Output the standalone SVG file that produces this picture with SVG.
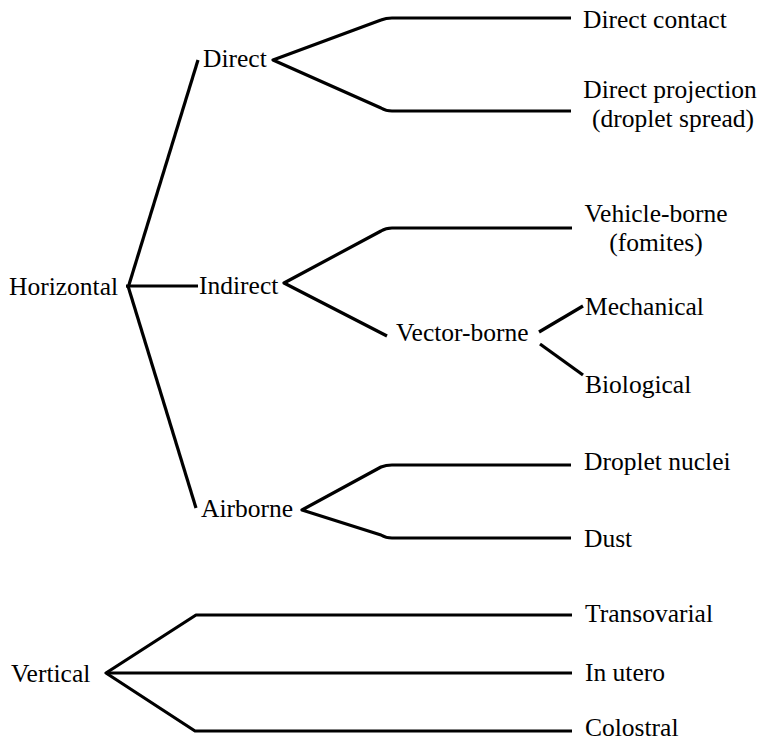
<svg xmlns="http://www.w3.org/2000/svg" width="762" height="743" viewBox="0 0 762 743" font-family="'Liberation Serif', 'Times New Roman', serif">
  <style>
    .bg { fill: #ffffff; }
    .ln { fill: none; stroke: #000000; stroke-width: 3.2; stroke-linejoin: round; stroke-linecap: butt; }
    text { font-family: "Liberation Serif", "Times New Roman", serif; font-size: 25.5px; fill: #000000; }
    .mid { text-anchor: middle; }
  </style>
  <rect class="bg" x="0" y="0" width="762" height="743"/>

  <!-- connectors -->
  <g id="connectors">
    <!-- Horizontal branches -->
    <path class="ln" d="M128,288 L198,60"/>
    <path class="ln" d="M126,286 L198,286"/>
    <path class="ln" d="M128,286 L196,508"/>
    <!-- Direct fork -->
    <path class="ln" d="M571,18 L392,18 Q386,18 381,20 L273,60 L381,108 Q386,111 392,111 L571,111"/>
    <!-- Indirect fork -->
    <path class="ln" d="M572,228 L392,228 Q386,228 381,231 L284,283 L387,336"/>
    <!-- Vector-borne fork -->
    <path class="ln" d="M539,332 L583,306"/>
    <path class="ln" d="M540,344 L583,375"/>
    <!-- Airborne fork -->
    <path class="ln" d="M571,465 L392,465 Q386,465 381,467 L302,510 L381,535 Q386,538 392,538 L571,538"/>
    <!-- Vertical fork -->
    <path class="ln" d="M572,615 L196,615 L106,673 L195,731 L572,731"/>
    <path class="ln" d="M106,673 L572,673"/>
  </g>

  <!-- nodes -->
  <g id="node-horizontal"><text x="9" y="295">Horizontal</text></g>
  <g id="node-direct"><text x="203" y="67">Direct</text></g>
  <g id="node-indirect"><text x="199" y="294">Indirect</text></g>
  <g id="node-airborne"><text x="201" y="517">Airborne</text></g>
  <g id="node-vector-borne"><text x="396" y="341">Vector-borne</text></g>

  <g id="node-direct-contact"><text x="583" y="28">Direct contact</text></g>
  <g id="node-direct-projection">
    <text class="mid" x="670" y="98">Direct projection</text>
    <text class="mid" x="673" y="127">(droplet spread)</text>
  </g>
  <g id="node-vehicle-borne">
    <text class="mid" x="656" y="222">Vehicle-borne</text>
    <text class="mid" x="656" y="251">(fomites)</text>
  </g>
  <g id="node-mechanical"><text x="585" y="315">Mechanical</text></g>
  <g id="node-biological"><text x="585" y="393">Biological</text></g>
  <g id="node-droplet-nuclei"><text x="584" y="470">Droplet nuclei</text></g>
  <g id="node-dust"><text x="584" y="547">Dust</text></g>

  <g id="node-vertical"><text x="11" y="682">Vertical</text></g>
  <g id="node-transovarial"><text x="585" y="622">Transovarial</text></g>
  <g id="node-in-utero"><text x="585" y="681">In utero</text></g>
  <g id="node-colostral"><text x="585" y="736">Colostral</text></g>
</svg>
